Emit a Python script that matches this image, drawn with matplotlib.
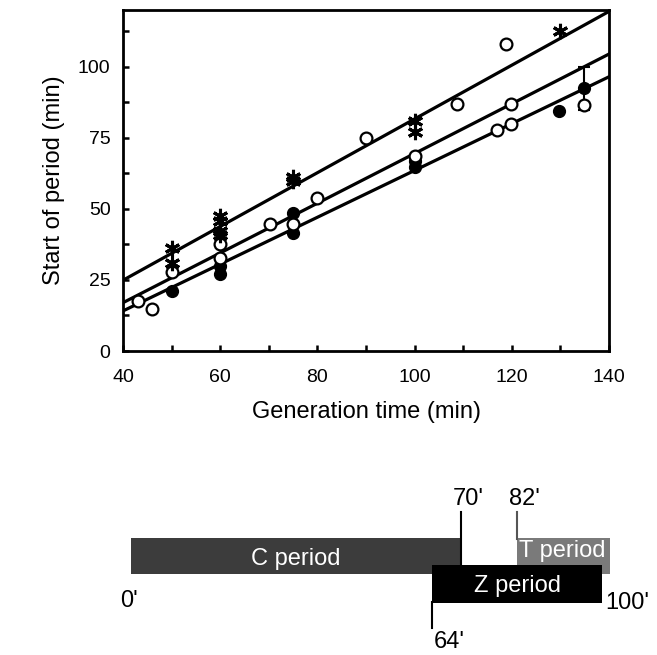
import matplotlib.pyplot as plt
import numpy as np
from matplotlib.ticker import MultipleLocator

plt.rcParams['font.family'] = ['Liberation Sans', 'DejaVu Sans']

# data
open_x = [43, 46, 50, 60, 60, 70.3, 75, 80, 90, 100, 108.8, 117, 118.9, 119.8, 119.8, 134.9]
open_y = [17.6, 14.7, 27.9, 37.6, 32.6, 44.8, 44.8, 53.8, 74.9, 68.7, 86.9, 77.8, 108.0, 86.9, 79.8, 86.6]

filled_x = [50, 60, 60, 75, 75, 100, 100, 129.7]
filled_y = [21.1, 27.2, 29.8, 48.5, 41.4, 64.6, 66.9, 84.5]
# filled point with error bar
err_x = [134.9]
err_y = [92.5]
err_val = [7.6]

star_x = [50, 50, 60, 60, 60, 60, 75, 75, 100, 100, 129.9]
star_y = [36.4, 31.1, 47.5, 45.8, 42.3, 40.8, 61.4, 59.9, 81.0, 76.9, 112.7]

line_x = [40, 140]
line_top = [24.9, 119.5]
line_mid = [17.0, 104.5]
line_low = [14.1, 96.5]

# lower diagram (minutes)
c_period = (0, 70)
t_period = (82, 100)
z_period = (64, 100)
mark_labels = ["0'", "64'", "70'", "82'", "100'"]
mark_vals = [0, 64, 70, 82, 100]

W, H = 657, 655
fig = plt.figure(figsize=(W / 100, H / 100), dpi=100)

ax = fig.add_axes([123 / W, 1 - 351 / H, 486 / W, 341 / H])
ax.plot(line_x, line_top, color='black', lw=2.3, zorder=2)
ax.plot(line_x, line_mid, color='black', lw=2.3, zorder=2)
ax.plot(line_x, line_low, color='black', lw=2.3, zorder=2)
ax.errorbar(err_x, err_y, yerr=err_val, fmt='o', color='black', ms=8.5,
            capsize=4, elinewidth=1.5, capthick=1.5, zorder=3)
ax.plot(filled_x, filled_y, 'o', color='black', ms=8.5, zorder=3)
ax.plot(open_x, open_y, 'o', mfc='white', mec='black', mew=1.6, ms=8.5, zorder=4)
ax.plot(star_x, star_y, linestyle='none', marker=(6, 2, 0), color='black', ms=11, mew=2.2, zorder=5)

ax.set_xlim(40, 140)
ax.set_ylim(0, 120)
ax.xaxis.set_major_locator(MultipleLocator(20))
ax.xaxis.set_minor_locator(MultipleLocator(10))
ax.yaxis.set_major_locator(MultipleLocator(25))
ax.yaxis.set_minor_locator(MultipleLocator(12.5))
ax.tick_params(which='both', direction='in', length=4, width=1.8, labelsize=14)
ax.tick_params(axis='x', which='both', pad=13)
ax.tick_params(axis='y', which='both', pad=9)
for s in ax.spines.values():
    s.set_linewidth(2.0)
ax.set_xlabel('Generation time (min)', fontsize=17, labelpad=11)
ax.set_ylabel('Start of period (min)', fontsize=17, labelpad=9)

# lower diagram in pixel rows, minute columns
ax2 = fig.add_axes([0, 0, 1, 1], zorder=-1)
px = 4.71
x0 = 131
ax2.set_xlim(-x0 / px, (W - x0) / px)
ax2.set_ylim(H, 0)
ax2.axis('off')

ax2.barh(556, c_period[1] - c_period[0], left=c_period[0], height=36, color='#3c3c3c')
ax2.barh(556, t_period[1] - t_period[0] + 1.8, left=t_period[0], height=36, color='#7a7a7a')
ax2.barh(584, z_period[1] - z_period[0], left=z_period[0], height=38, color='black')
ax2.text(35, 559, 'C period', color='white', fontsize=17, ha='center', va='center')
ax2.text(91.5, 551, 'T period', color='white', fontsize=17, ha='center', va='center')
ax2.text(82, 586, 'Z period', color='white', fontsize=17, ha='center', va='center')

ax2.plot([70, 70], [512, 566], color='black', lw=1.5)
ax2.plot([82, 82], [512, 539], color='#555555', lw=1.5)
ax2.plot([64, 64], [602, 628], color='black', lw=1.5)

ax2.text(mark_vals[0] - 0.5, 601, mark_labels[0], fontsize=17, ha='center', va='center')
ax2.text(mark_vals[1] + 0.2, 642, mark_labels[1], fontsize=17, ha='left', va='center')
ax2.text(mark_vals[2] + 1.7, 499, mark_labels[2], fontsize=17, ha='center', va='center')
ax2.text(mark_vals[3] + 1.5, 499, mark_labels[3], fontsize=17, ha='center', va='center')
ax2.text(mark_vals[4] + 0.6, 603, mark_labels[4], fontsize=17, ha='left', va='center')

fig.savefig('out.png', dpi=100)
